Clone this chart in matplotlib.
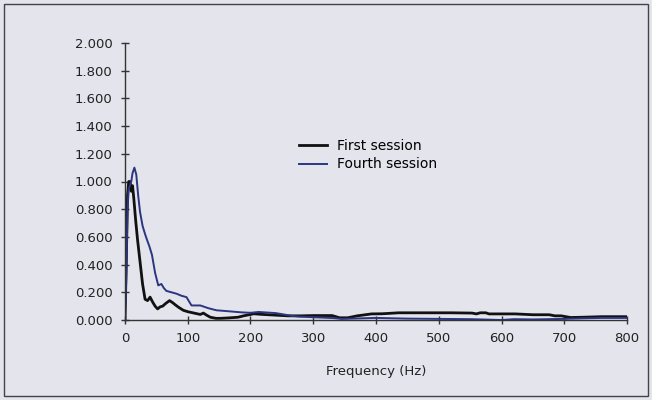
import matplotlib.pyplot as plt
import matplotlib.patches as patches
from matplotlib.ticker import FormatStrFormatter

# frequency (Hz) and spectrum values
first_hz = [0, 2, 4, 6, 8, 10, 12, 14, 17, 20, 24, 28, 32, 36, 40, 44, 48, 52, 56, 60,
            65, 71, 76, 80, 86, 93, 100, 110, 120, 125, 130, 136, 145, 152, 165, 180,
            189, 200, 205, 220, 240, 260, 280, 300, 330, 342, 355, 370, 393, 410, 436,
            480, 520, 553, 560, 566, 575, 580, 600, 622, 650, 676, 685, 695, 710, 730,
            760, 800]
first_val = [0, 0.4, 0.9, 1.0, 1.0, 0.93, 0.97, 0.88, 0.72, 0.58, 0.42, 0.26, 0.15, 0.14,
             0.165, 0.13, 0.10, 0.08, 0.095, 0.10, 0.12, 0.14, 0.125, 0.11, 0.09, 0.07,
             0.06, 0.05, 0.04, 0.05, 0.035, 0.02, 0.012, 0.012, 0.015, 0.02, 0.03, 0.04,
             0.045, 0.04, 0.035, 0.03, 0.03, 0.032, 0.032, 0.016, 0.016, 0.03, 0.044,
             0.045, 0.052, 0.052, 0.052, 0.05, 0.044, 0.052, 0.052, 0.044, 0.044, 0.044,
             0.038, 0.038, 0.03, 0.03, 0.018, 0.02, 0.024, 0.024]

fourth_hz = [0, 2, 4, 6, 8, 10, 12, 15, 18, 21, 24, 28, 32, 35, 39, 43, 48, 53, 58, 62,
             66, 74, 82, 90, 98, 106, 120, 133, 146, 160, 173, 186, 200, 213, 226, 240,
             253, 265, 279, 300, 332, 345, 360, 400, 450, 500, 550, 600, 620, 650, 700,
             730, 760, 800]
fourth_val = [0, 0.3, 0.8, 0.95, 0.97, 1.0, 1.06, 1.1, 1.05, 0.9, 0.78, 0.68, 0.62, 0.58,
              0.53, 0.47, 0.34, 0.25, 0.26, 0.23, 0.21, 0.2, 0.19, 0.175, 0.165, 0.105,
              0.105, 0.085, 0.07, 0.065, 0.06, 0.055, 0.052, 0.058, 0.054, 0.05, 0.04,
              0.03, 0.024, 0.02, 0.014, 0.008, 0.01, 0.015, 0.01, 0.008, 0.006, 0.0,
              0.006, 0.004, 0.008, 0.012, 0.015, 0.015]

bg = '#e3e4ec'
fig = plt.figure(figsize=(6.52, 4.0), dpi=100, facecolor=bg)
ax = fig.add_axes([0.1917, 0.2, 0.77, 0.6925])
ax.set_facecolor(bg)

ax.plot(first_hz, first_val, color='#111111', lw=2.0, label='First session')
ax.plot(fourth_hz, fourth_val, color='#2b3580', lw=1.4, label='Fourth session')

ax.set_xlim(0, 800)
ax.set_ylim(0, 2.0)
ax.set_xticks(range(0, 801, 100))
ax.set_yticks([i * 0.2 for i in range(11)])
ax.yaxis.set_major_formatter(FormatStrFormatter('%.3f'))

for s in ['top', 'right']:
    ax.spines[s].set_visible(False)
for s in ['left', 'bottom']:
    ax.spines[s].set_color('#333333')
    ax.spines[s].set_linewidth(1.0)
ax.tick_params(direction='inout', length=6, width=1, colors='#333333',
               labelsize=9.5, labelcolor='#222222')
ax.tick_params(axis='y', pad=6)
ax.tick_params(axis='x', pad=6)

ax.set_xlabel('Frequency (Hz)', fontsize=9.5, color='#222222', labelpad=14)

ax.legend(loc='upper left', bbox_to_anchor=(0.336, 0.675), frameon=False,
          fontsize=10, handlelength=2.0, handletextpad=0.7, labelspacing=0.35,
          borderaxespad=0)

# frame around the whole picture
fig.patches.append(patches.Rectangle((4 / 652, 4 / 400), 644 / 652, 392 / 400,
                                     transform=fig.transFigure, fill=False,
                                     edgecolor='#444444', lw=1.0))

fig.savefig('out.png', dpi=100, facecolor=bg)
